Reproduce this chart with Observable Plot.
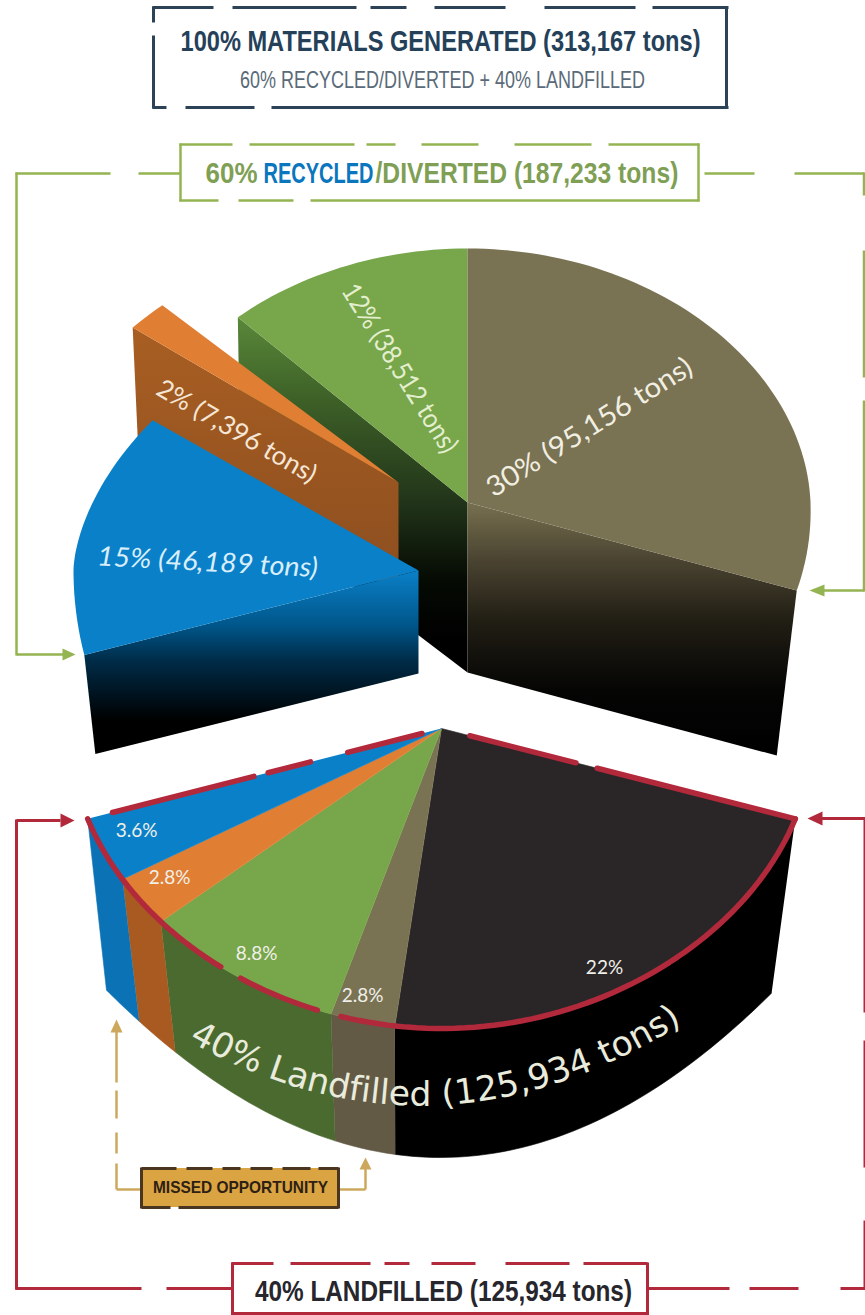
<!DOCTYPE html>
<html><head><meta charset="utf-8">
<script src="https://cdn.jsdelivr.net/npm/d3@7"></script>
<script src="https://cdn.jsdelivr.net/npm/@observablehq/plot@0.6"></script>
<style>html,body{margin:0;padding:0;background:#fff}svg{display:block}</style>
</head><body><div id="chart"></div>
<script>
// ---- values ----
const recycledPct = [30, 12, 2, 15];
const recycledTons = ["95,156", "38,512", "7,396", "46,189"];
const landfillPct = [22, 2.8, 8.8, 2.8, 3.6];
const totalLine = "100% MATERIALS GENERATED (313,167 tons)";
const subLine = "60% RECYCLED/DIVERTED + 40% LANDFILLED";
const recycledHead = ["60%", "RECYCLED", "/DIVERTED (187,233 tons)"];
const landfillHead = "40% LANDFILLED (125,934 tons)";
const wallText = "40% Landfilled (125,934 tons)";
const missedText = "MISSED OPPORTUNITY";

// ---- styling and projection settings ----
const C = {olive:"#7a7353", green:"#78a64a", orange:"#e07f33", blue:"#0a80c8", dark:"#2a2627",
  navy:"#2b4257", lime:"#93b450", red:"#b3293c", tan:"#cda85c"};
const sans = "'Liberation Sans',Arial,sans-serif";
const human = "Lato,'Open Sans',sans-serif";
const sweep = p => p * 3.6;

// perspective ellipse: t in degrees, clockwise from up
const ell = (e, t) => {
  const r = t * Math.PI / 180, s = Math.sin(r), c = Math.cos(r);
  const up = c > 0 ? Math.pow(c, e.p || 1) * e.ryT : c * e.ryB - (e.bump || 0) * c ** 4;
  return {x: e.cx + e.rx * s * (1 - (e.k || 0) * c), y: e.cy - up};
};
const arc = (e, t0, t1) => {
  const n = Math.max(2, Math.ceil(Math.abs(t1 - t0) / 1.5));
  return d3.range(n + 1).map(i => ell(e, t0 + (t1 - t0) * i / n));
};
const P = (x, y) => ({x, y});
const poly = (pts, fill, extra = {}) => Plot.line(pts, {x:"x", y:"y", fill, stroke:"none", ...extra});
const segs = (list, stroke, strokeWidth = 3, extra = {}) => Plot.link(list.map(d => ({x1:d[0], y1:d[1], x2:d[2], y2:d[3]})),
  {x1:"x1", y1:"y1", x2:"x2", y2:"y2", stroke, strokeWidth, ...extra});
const hDash = (y, runs) => runs.map(r => [r[0], y, r[1], y]);
const vDash = (x, runs) => runs.map(r => [x, r[0], x, r[1]]);
const arrow = (x, y, dx, dy, len, half, fill) => poly(
  [P(x, y), P(x + dx * len - dy * half, y + dy * len - dx * half), P(x + dx * len + dy * half, y + dy * len + dx * half)], fill);
const label = (text, x, y, o = {}) => Plot.text([text], {x:() => x, y:() => y, text:d => d, ...o});

const ctx = document.createElement("canvas").getContext("2d");
const measure = (s, font) => { ctx.font = font; return ctx.measureText(s).width; };

// vertical gradients
const grads = {
  gOlive: [[502,"#77704f"],[560,"#4a4331"],[620,"#211e14"],[690,"#050504"],[755,"#000"]],
  gGreen: [[313,"#5a8a3a"],[400,"#3d6027"],[500,"#22351a"],[580,"#050a03"],[640,"#000"]],
  gOrange:[[330,"#a85e22"],[560,"#8f5020"]],
  gBlue:  [[570,"#0a80c8"],[625,"#00568a"],[660,"#002c48"],[720,"#000"]]
};
const defs = () => {
  const d = d3.create("svg:defs");
  for (const [id, stops] of Object.entries(grads)) {
    const g = d.append("linearGradient").attr("id", id).attr("gradientUnits","userSpaceOnUse")
      .attr("x1",0).attr("x2",0).attr("y1",stops[0][0]).attr("y2",stops[stops.length-1][0]);
    const a = stops[0][0], b = stops[stops.length-1][0];
    stops.forEach(s => g.append("stop").attr("offset",(s[0]-a)/(b-a)).attr("stop-color",s[1]));
  }
  return d.node();
};

// ---- upper (recycled) pie: slices laid out by their share ----
const eCore = {cx:467, cy:502, rx:343, ryT:254, ryB:285, k:.03};
const eOrange = {cx:398, cy:482, rx:345, ryT:243, ryB:243};
const eBlue = {cx:418, cy:570, rx:345, ryT:258, ryB:340, p:1.2};
const a0 = 0, aOlive = a0 + sweep(recycledPct[0]);
const aGreen = a0 - sweep(recycledPct[1]);
const aOrange = aGreen - sweep(recycledPct[2]);
const aBlue = aOrange - sweep(recycledPct[3]);
const pOlive = ell(eCore, aOlive), pGreen = ell(eCore, aGreen), pOrange = ell(eOrange, aOrange), pBlue = ell(eBlue, aBlue);
const apexC = P(eCore.cx, eCore.cy), apexO = P(eOrange.cx, eOrange.cy), apexB = P(eBlue.cx, eBlue.cy);

const upper = [
  poly([apexC, pGreen, P(pGreen.x + 3, pGreen.y + 183), P(apexC.x, apexC.y + 170)], "url(#gGreen)"),
  poly([apexC, ...arc(eCore, aGreen, a0)], C.green),
  poly([apexC, pOlive, P(pOlive.x - 20, pOlive.y + 165), P(apexC.x, apexC.y + 170)], "url(#gOlive)"),
  poly([apexC, ...arc(eCore, a0, aOlive)], C.olive),
  poly([apexO, pOrange, P(pOrange.x + 5, pOrange.y + 110), P(apexO.x, apexO.y + 110)], "url(#gOrange)"),
  poly([apexO, ...arc(eOrange, aOrange, aGreen)], C.orange),
  poly([apexB, pBlue, P(pBlue.x + 11, pBlue.y + 99), P(apexB.x, apexB.y + 103)], "url(#gBlue)"),
  poly([apexB, ...arc(eBlue, aBlue, aOrange)], C.blue)
];

// ---- lower (landfilled) pie ----
const eLow = {cx:441, cy:728, rx:372, ryT:292, ryB:292, bump:8};
const lowStart = 108;
const lowEnds = d3.cumsum(landfillPct, sweep).map(d => lowStart + d);
const lowStarts = [lowStart, ...lowEnds.slice(0, -1)];
const lowTop = [C.dark, C.olive, C.green, C.orange, C.blue];
const lowWall = ["#000", "#635a45", "#4b6a30", "#a85a20", "#0b72b5"];
const wallBottom = p => {
  const x = p.x + (400 - p.x) * .06;
  return P(x, 1157 - .0015 * (x - 440) ** 2);
};
const apexL = P(eLow.cx, eLow.cy);
const lower = [];
landfillPct.forEach((_, i) => {
  const a = arc(eLow, lowStarts[i], lowEnds[i]);
  lower.push(poly([...a, ...a.map(wallBottom).reverse()], lowWall[i], {stroke:lowWall[i], strokeWidth:.6}));
});
landfillPct.forEach((_, i) => {
  lower.push(poly([apexL, ...arc(eLow, lowStarts[i], lowEnds[i])], lowTop[i], {stroke:lowTop[i], strokeWidth:.6}));
});
// red outline, with its dashes
const redLine = pts => Plot.line(pts, {x:"x", y:"y", stroke:C.red, strokeWidth:5.5, strokeLinecap:"round", strokeLinejoin:"round"});
const pLowL = ell(eLow, lowEnds[4]), pLowR = ell(eLow, lowStart);
const along = (a, b, f) => P(a.x + (b.x - a.x) * f, a.y + (b.y - a.y) * f);
const redEdges = [
  [195.7, 108], [212.7, 199.5], [252, 216.4]
].map(r => redLine(arc(eLow, r[0], r[1])));
const redLeft = [[.055,.265],[.37,.49],[.53,.93]].map(r => redLine([along(apexL,pLowL,r[0]), along(apexL,pLowL,r[1])]));
const redRight = [[.08,.38],[.44,1]].map(r => redLine([along(apexL,pLowR,r[0]), along(apexL,pLowR,r[1])]));

// ---- curved wall text, one glyph at a time ----
const wallSize = 34.5, wallFont = `${wallSize}px 'DejaVu Sans'`;
const wallY = x => 1105 - .0012 * (x - 420) ** 2;
const wallSlope = x => -.0024 * (x - 420);
let wx = 188;
const wallGlyphs = Array.from(wallText).map(ch => {
  const w = measure(ch, wallFont), m = wallSlope(wx), q = Math.sqrt(1 + m * m);
  const xm = wx + w / q / 2, mm = wallSlope(xm), qq = Math.sqrt(1 + mm * mm);
  wx += w / q;
  return {ch, x:xm + mm / qq * .32 * wallSize, y:wallY(xm) - 1 / qq * .32 * wallSize, r:Math.atan(mm) * 180 / Math.PI};
});

const pct = recycledPct.map((p, i) => `${p}% (${recycledTons[i]} tons)`);
const lowLabels = [[604,967],[362,995],[256,953],[169,877],[136,830]];

// condensed typesetting: text -> drawn length
const textLengths = new Map([
  [totalLine, 520], [subLine, 405], [landfillHead, 377], [missedText, 175],
  [pct[0], 237], [pct[1], 194], [pct[2], 180], [pct[3], 221]
]);
const headWidths = new Map([[recycledHead[0], 52], [recycledHead[1], 110], [recycledHead[2], 303]]);

const headSize = 30;
const boldHead = {fontFamily:sans, fontWeight:"bold", fontSize:headSize};
const chart = Plot.plot({
  width:865, height:1315, margin:0,
  x:{domain:[0,865], range:[0,865], axis:null},
  y:{domain:[0,1315], range:[0,1315], axis:null},
  style:{background:"#fff"},
  marks:[
    defs,
    ...upper,
    ...lower,
    ...redEdges, ...redLeft, ...redRight,

    // header box
    segs([...hDash(7,[[152,213],[232,356],[370,406],[434,505],[544,635],[652,728]]),
          ...hDash(107,[[152,166],[185,254],[271,728]]),
          ...vDash(153,[[6,22],[35,108]]), ...vDash(726,[[6,108]])], C.navy, 3),
    label(totalLine, 440, 41, {...boldHead, fill:"#25415a"}),
    label(subLine, 442, 80, {fontFamily:sans, fontSize:24, fill:"#5a6a78"}),

    // green frame and brackets
    segs([...hDash(144,[[179,232],[249,354],[366,395],[421,478],[514,591],[608,699]]),
          ...hDash(200,[[179,218],[238,293],[310,699]]),
          ...vDash(180,[[143,201]]), ...vDash(698,[[143,201]]),
          ...hDash(173,[[15,110],[138,180],[704,754],[794,864]]),
          ...vDash(16,[[172,655]]), ...vDash(863.5,[[172,195],[250,377],[400,591]]),
          ...hDash(654,[[16,65]]), ...hDash(590,[[820,864]])], C.lime, 2.5),
    arrow(75, 654, -1, 0, 13, 6, C.lime),
    arrow(809, 590, 1, 0, 15, 6, C.lime),
    label(recycledHead[0], 205, 173, {...boldHead, textAnchor:"start", fill:"#7f9f55"}),
    label(recycledHead[1], 263, 173, {...boldHead, textAnchor:"start", fill:"#0a76bd"}),
    label(recycledHead[2], 375, 173, {...boldHead, textAnchor:"start", fill:"#7f9f55"}),

    // red frame and brackets
    segs([...hDash(1263,[[231,273],[290,370],[384,409],[431,475],[505,569],[583,647]]),
          ...hDash(1313,[[231,647]]), ...vDash(232,[[1262,1315]]), ...vDash(647,[[1262,1315]]),
          ...hDash(1288,[[15,141],[166,232],[647,729],[749,798],[840,865]]),
          ...vDash(16,[[819,1289]]), ...hDash(820,[[16,60]]), ...hDash(818,[[820,865]])], C.red, 3),
    segs(vDash(864,[[818,1012],[1040,1167],[1220,1288]]), C.red, 2),
    arrow(74, 820, -1, 0, 14, 7, C.red),
    arrow(807, 818, 1, 0, 15, 7, C.red),
    label(landfillHead, 443, 1291, {...boldHead, fill:"#26262c"}),

    // missed opportunity
    segs([...vDash(116,[[1030,1082],[1090,1118],[1132,1153],[1163,1189]]), ...hDash(1189,[[116,141],[338,365]]), ...vDash(365,[[1166,1189]])], C.tan, 2.5),
    arrow(116, 1019, 0, 1, 13, 6, C.tan),
    arrow(365, 1157, 0, 1, 12, 6, C.tan),
    Plot.rect([{x1:141,x2:338,y1:1168,y2:1207}], {x1:"x1",x2:"x2",y1:"y1",y2:"y2",fill:"#d9a441"}),
    segs([...hDash(1168,[[141,176],[186,212],[222,240],[250,272],[282,310],[318,338]]),
          ...hDash(1207,[[141,170],[178,338]]), ...vDash(338,[[1167,1208]]), ...vDash(141,[[1167,1208]])], "#4a3620", 3),
    label(missedText, 240, 1187, {fontFamily:sans, fontWeight:"bold", fontSize:17, fill:"#2e2015"}),

    // slice labels
    label(pct[0], 589, 427, {fontFamily:human, fontSize:28, rotate:-32, fill:"#f1eee2"}),
    label(pct[1], 399, 368, {fontFamily:human, fontSize:27, rotate:58, fill:"#e4efcf"}),
    label(pct[2], 236, 431, {fontFamily:human, fontSize:26, rotate:30, fill:"#f5e6d6"}),
    label(pct[3], 207, 562, {fontFamily:human, fontSize:27, fontStyle:"italic", rotate:3, fill:"#d8eefa"}),
    ...landfillPct.map((p, i) => label(`${p}%`, lowLabels[i][0], lowLabels[i][1], {fontFamily:human, fontSize:19, fill:"#f0f0ea"})),

    Plot.text(wallGlyphs, {x:"x", y:"y", text:"ch", rotate:"r", fontFamily:"DejaVu Sans", fontSize:wallSize, fill:"#e9ecdc"})
  ]
});
const headFont = `bold ${headSize}px 'Liberation Sans'`;
chart.querySelectorAll("text").forEach(t => {
  const content = t.textContent;
  const len = textLengths.get(content);
  if (len) { t.setAttribute("textLength", len); t.setAttribute("lengthAdjust", "spacingAndGlyphs"); }
  const hw = headWidths.get(content);
  if (hw) t.setAttribute("transform", `${t.getAttribute("transform") || ""} scale(${hw / measure(content, headFont)},1)`);
});
document.getElementById("chart").append(chart);
</script></body></html>
